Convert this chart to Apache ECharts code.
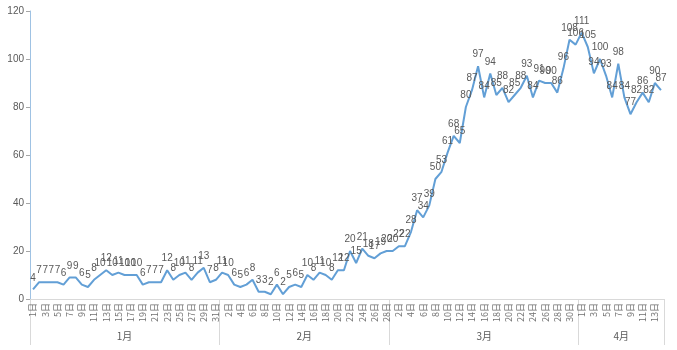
<!DOCTYPE html>
<html>
<head>
<meta charset="utf-8">
<script src="https://cdn.jsdelivr.net/npm/echarts@6/dist/echarts.min.js"></script>
<style>
  html, body { margin: 0; padding: 0; background: #fff; }
  #chart { width: 677px; height: 350px; }
</style>
</head>
<body>
<div id="chart"></div>
<script>
// Daily counts, one array per month
const months = ['1月', '2月', '3月', '4月'];
const janValues = [4, 7, 7, 7, 7, 6, 9, 9, 6, 5, 8, 10, 12, 10, 11, 10, 10, 10, 6, 7, 7, 7, 12, 8, 10, 11, 8, 11, 13, 7, 8];
const febValues = [11, 10, 6, 5, 6, 8, 3, 3, 2, 6, 2, 5, 6, 5, 10, 8, 11, 10, 8, 12, 12, 20, 15, 21, 18, 17, 19, 20];
const marValues = [20, 22, 22, 28, 37, 34, 39, 50, 53, 61, 68, 65, 80, 87, 97, 84, 94, 85, 88, 82, 85, 88, 93, 84, 91, 90, 90, 86, 96, 108, 106];
const aprValues = [111, 105, 94, 100, 93, 84, 98, 84, 77, 82, 86, 82, 90, 87];
const yTicks = [0, 20, 40, 60, 80, 100, 120];

const monthValues = [janValues, febValues, marValues, aprValues];

// Day labels ("1日", "2日", ...) and month boundaries for the grouped axis
const categories = [];
const values = [];
const boundaries = [0];
const monthCenters = [];
monthValues.forEach(function (arr) {
  const start = values.length;
  arr.forEach(function (v, i) {
    categories.push((i + 1) + '日');
    values.push(v);
  });
  boundaries.push(values.length);
  monthCenters.push((start + values.length) / 2);
});

const textColor = '#595959';
const chart = echarts.init(document.getElementById('chart'));
chart.setOption({
  animation: false,
  backgroundColor: '#ffffff',
  textStyle: { fontFamily: 'Noto Sans CJK SC' },
  grid: { left: 30, right: 13, top: 11, bottom: 51, containLabel: false },
  xAxis: [
    {
      type: 'category',
      data: categories,
      boundaryGap: true,
      axisLine: { show: true, lineStyle: { color: '#d9d9d9', width: 1 } },
      axisTick: { show: false },
      axisLabel: {
        interval: 1,
        rotate: 90,
        fontSize: 9,
        color: '#707070',
        margin: 4
      },
      splitLine: { show: false }
    },
    {
      type: 'value',
      position: 'bottom',
      min: 0,
      max: categories.length,
      axisLine: { show: false },
      axisTick: {
        show: true,
        customValues: boundaries,
        length: 46,
        lineStyle: { color: '#d9d9d9', width: 1 }
      },
      axisLabel: {
        customValues: monthCenters,
        formatter: function (v) {
          const idx = monthCenters.indexOf(v);
          return idx >= 0 ? months[idx] : '';
        },
        fontSize: 10,
        color: textColor,
        margin: 32
      },
      splitLine: { show: false }
    }
  ],
  yAxis: {
    type: 'value',
    min: yTicks[0],
    max: yTicks[yTicks.length - 1],
    interval: 20,
    axisLine: { show: true, lineStyle: { color: '#9fc2e3', width: 1 } },
    axisTick: { show: true, length: 4, lineStyle: { color: '#a6a6a6' } },
    axisLabel: { fontSize: 10, color: textColor, margin: 6, fontFamily: 'Liberation Sans' },
    splitLine: { show: false }
  },
  series: [
    {
      type: 'line',
      xAxisIndex: 0,
      data: values,
      symbol: 'circle',
      symbolSize: 1,
      showSymbol: true,
      showAllSymbol: true,
      itemStyle: { color: 'rgba(91,155,213,0)' },
      lineStyle: { color: '#629fd6', width: 2 },
      label: {
        show: true,
        position: 'top',
        distance: 6,
        fontSize: 10,
        color: '#595959',
        fontFamily: 'Liberation Sans'
      },
      labelLayout: { hideOverlap: false }
    }
  ]
});
</script>
</body>
</html>
